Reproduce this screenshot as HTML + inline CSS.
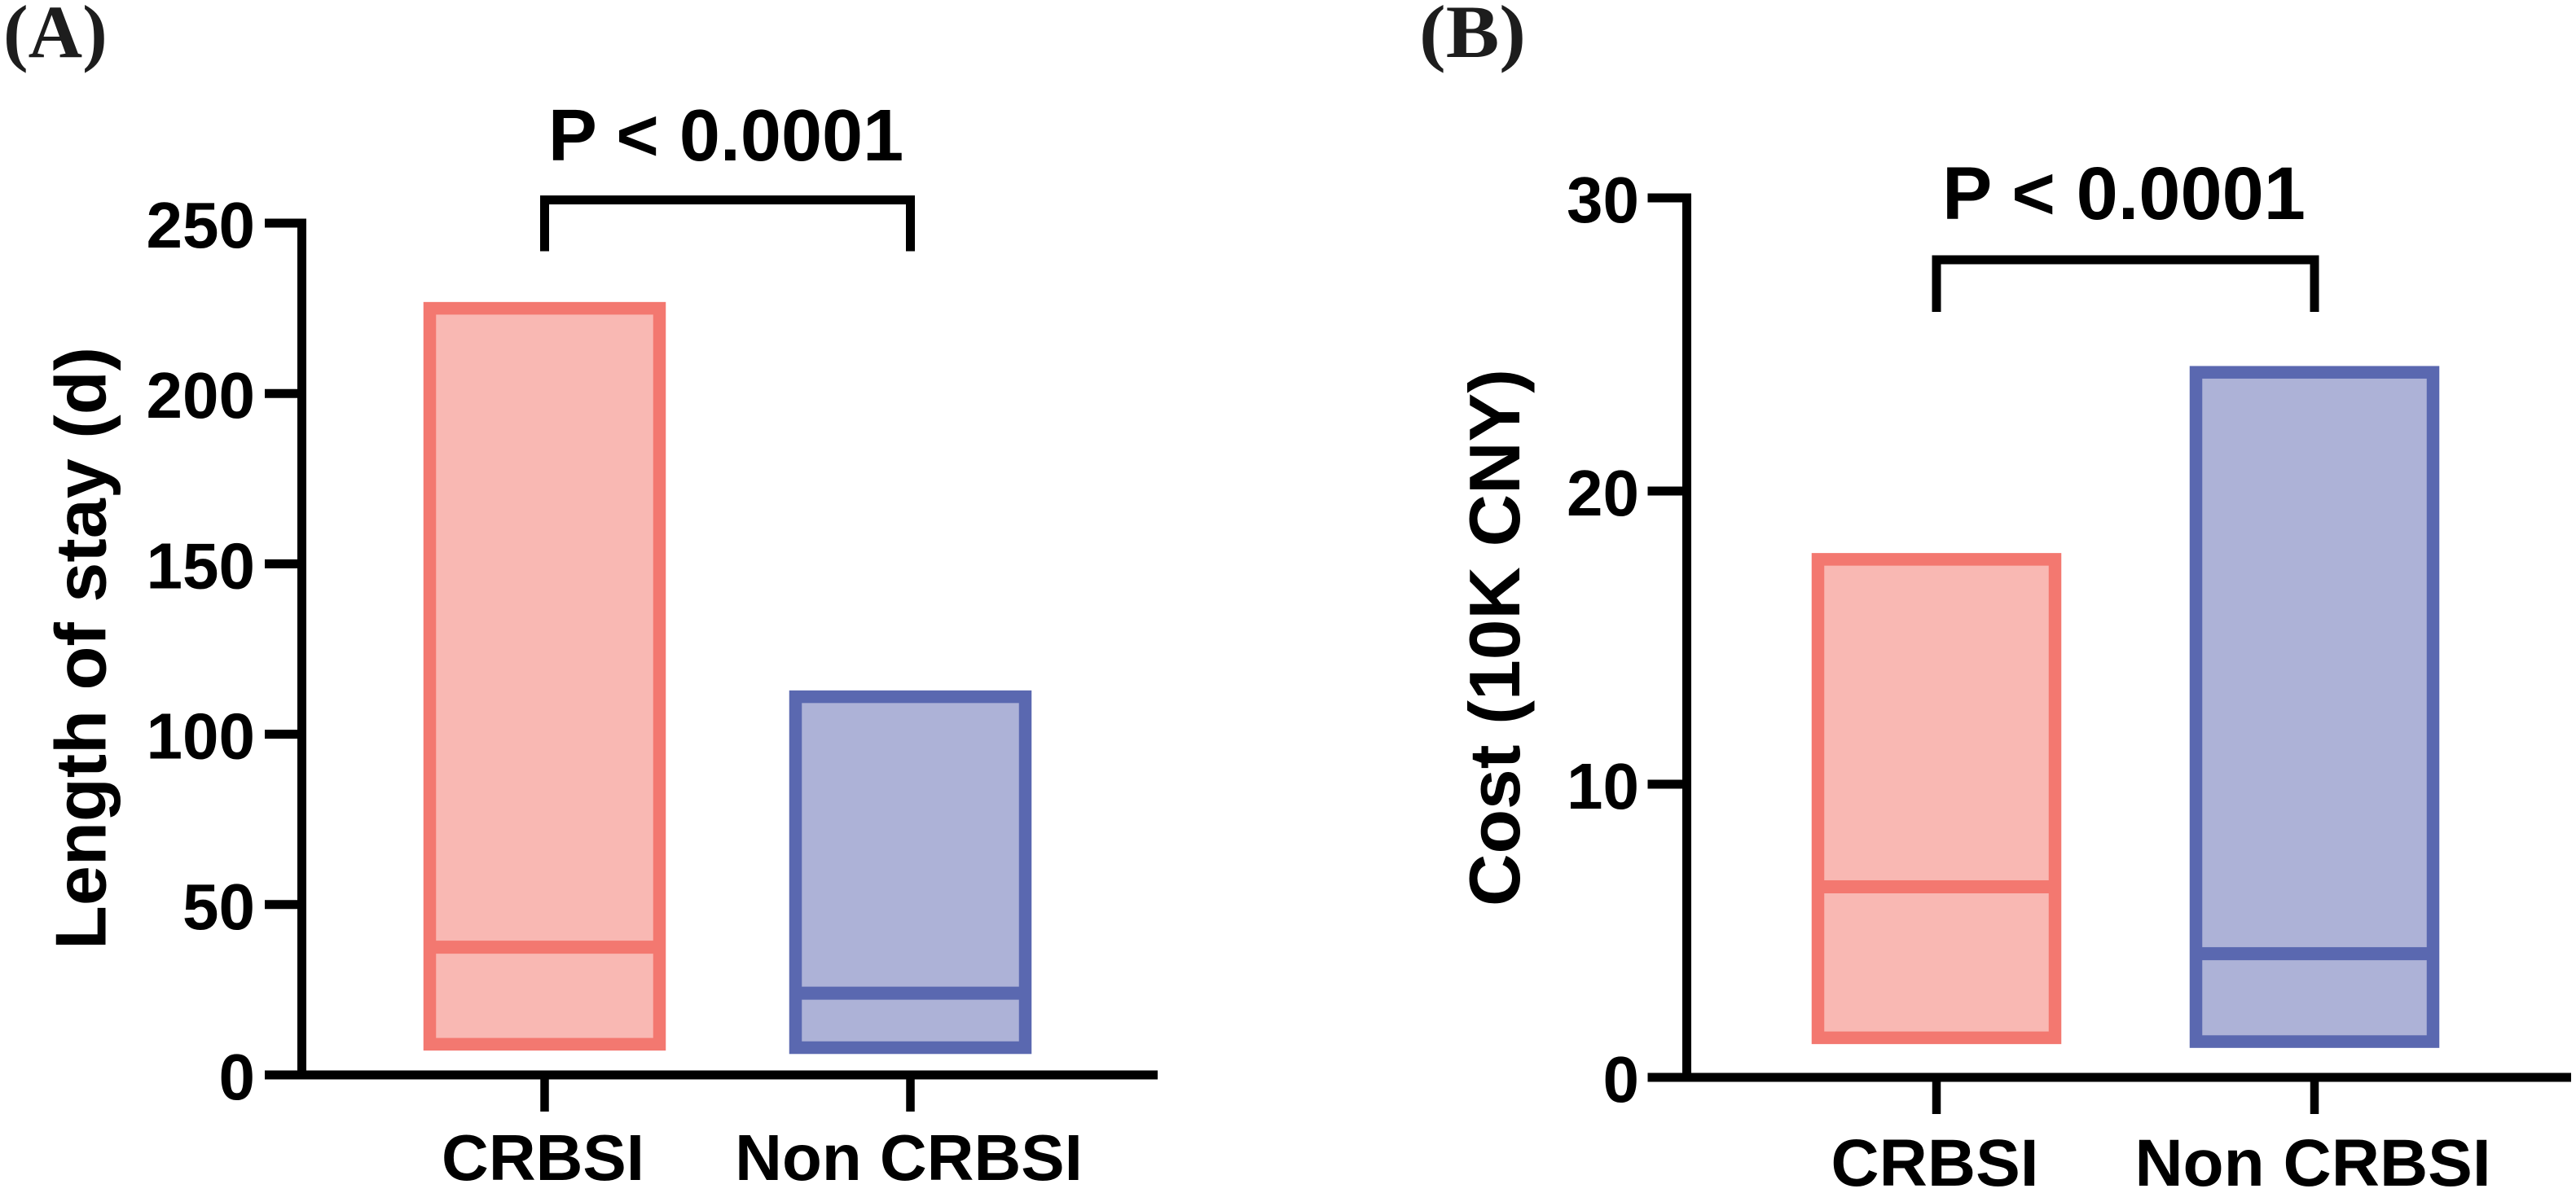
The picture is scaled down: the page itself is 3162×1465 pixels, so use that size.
<!DOCTYPE html>
<html lang="en">
<head>
<meta charset="utf-8">
<title>Length of stay and cost: CRBSI vs Non CRBSI</title>
<style>
  html, body { margin: 0; padding: 0; background: #fff; }
  svg { display: block; }
  text { font-family: "Liberation Sans", Arial, sans-serif; font-weight: 700; fill: #000; }
  .panel-letter { font-family: "Liberation Serif", "Times New Roman", serif; font-size: 92px; fill: #1d1d1d; }
</style>
</head>
<body>
<svg id="figure" xmlns="http://www.w3.org/2000/svg" width="3162" height="1465" viewBox="0 0 3162 1465">
  <rect x="0" y="0" width="3162" height="1465" fill="#ffffff"/>
  <text class="panel-letter" x="4" y="70">(A)</text>
  <text class="panel-letter" x="1742" y="70" textLength="131" lengthAdjust="spacingAndGlyphs">(B)</text>
  <text font-size="88" text-anchor="middle" textLength="740" lengthAdjust="spacingAndGlyphs" transform="translate(129.5 796) rotate(-90)">Length of stay (d)</text>
  <text font-size="88" text-anchor="middle" textLength="660" lengthAdjust="spacingAndGlyphs" transform="translate(1865 783) rotate(-90)">Cost (10K CNY)</text>
  <text font-size="90" text-anchor="middle" x="891" y="197">P &lt; 0.0001</text>
  <text font-size="92" text-anchor="middle" x="2607" y="269">P &lt; 0.0001</text>
  <g id="panel-a"></g>
  <g id="panel-b"></g>
</svg>
<script>
// Shared categories
const categories = ['CRBSI', 'Non CRBSI'];

// Panel A: length of stay (d)
const lengthTicks = [0, 50, 100, 150, 200, 250];
const lengthMin = [9, 8];
const lengthMedian = [37.5, 24];
const lengthMax = [225, 111];

// Panel B: cost (10K CNY)
const costTicks = [0, 10, 20, 30];
const costMin = [1.35, 1.22];
const costMedian = [6.5, 4.22];
const costMax = [17.67, 24.05];

const SVG_NS = 'http://www.w3.org/2000/svg';

function make(parent, tag, attrs) {
  const el = document.createElementNS(SVG_NS, tag);
  Object.keys(attrs).forEach(function (k) { el.setAttribute(k, attrs[k]); });
  parent.appendChild(el);
  return el;
}

function linearScale(d0, d1, r0, r1) {
  return function (v) { return r0 + (v - d0) * (r1 - r0) / (d1 - d0); };
}

function drawPanel(opts) {
  const root = document.getElementById(opts.id);
  const y = linearScale(0, opts.ticks[opts.ticks.length - 1], opts.y0, opts.yTop);
  const x = function (i) { return opts.xFirst + i * opts.xStep; };
  const colors = [
    { stroke: '#F37870', fill: '#F9B8B3' },
    { stroke: '#5A68B0', fill: '#ADB2D7' }
  ];

  // Floating bars
  opts.categories.forEach(function (cat, i) {
    const top = y(opts.max[i]);
    const bottom = y(opts.min[i]);
    const slug = i === 0 ? 'crbsi' : 'non-crbsi';
    const bar = make(root, 'rect', {
      x: x(i) - opts.barWidth / 2, y: top,
      width: opts.barWidth, height: bottom - top,
      fill: colors[i].fill, stroke: colors[i].stroke, 'stroke-width': 15.5
    });
    
    
    const med = make(root, 'line', {
      x1: x(i) - opts.barWidth / 2, x2: x(i) + opts.barWidth / 2,
      y1: y(opts.median[i]), y2: y(opts.median[i]),
      stroke: colors[i].stroke, 'stroke-width': 16
    });
    
    
  });

  // Y axis
  const yAxis = make(root, 'line', {
    x1: opts.axisX, x2: opts.axisX,
    y1: opts.yTop - 5.5, y2: opts.y0 + 5.5,
    stroke: '#000', 'stroke-width': 11
  });
  
  

  // Y ticks + labels
  opts.ticks.forEach(function (t) {
    const tick = make(root, 'line', {
      x1: opts.tickLeft, x2: opts.axisX,
      y1: y(t), y2: y(t),
      stroke: '#000', 'stroke-width': 11
    });
    
    
    const label = make(root, 'text', {
      x: opts.tickLabelX, y: y(t) + 30,
      'font-size': 80, 'text-anchor': 'end'
    });
    label.textContent = String(t);
    
    
  });

  // X axis
  const xAxis = make(root, 'line', {
    x1: opts.tickLeft, x2: opts.axisRight,
    y1: opts.y0, y2: opts.y0,
    stroke: '#000', 'stroke-width': 11
  });
  
  

  // X ticks + labels
  opts.categories.forEach(function (cat, i) {
    const tick = make(root, 'line', {
      x1: x(i), x2: x(i),
      y1: opts.y0, y2: opts.y0 + 45,
      stroke: '#000', 'stroke-width': 10.5
    });
    
    
    const label = make(root, 'text', {
      x: x(i) - 2, y: opts.xLabelY,
      'font-size': opts.xLabelSize, 'text-anchor': 'middle'
    });
    label.textContent = cat;
    
    
  });

  // Significance bracket
  const bracket = make(root, 'path', {
    d: 'M' + x(0) + ' ' + opts.bracketBottom +
       'V' + opts.bracketTop +
       'H' + x(1) +
       'V' + opts.bracketBottom,
    fill: 'none', stroke: '#000', 'stroke-width': 11, 'stroke-linejoin': 'miter'
  });
  
  
}

drawPanel({
  id: 'panel-a', categories: categories, ticks: lengthTicks,
  min: lengthMin, median: lengthMedian, max: lengthMax,
  y0: 1320, yTop: 274, axisX: 370.5, tickLeft: 325, axisRight: 1421,
  xFirst: 668.5, xStep: 449, barWidth: 282, tickLabelX: 313,
  xLabelY: 1449, xLabelSize: 80, bracketTop: 245.5, bracketBottom: 308.5
});

drawPanel({
  id: 'panel-b', categories: categories, ticks: costTicks,
  min: costMin, median: costMedian, max: costMax,
  y0: 1323, yTop: 243, axisX: 2070.5, tickLeft: 2022.5, axisRight: 3156,
  xFirst: 2377, xStep: 464, barWidth: 291, tickLabelX: 2012,
  xLabelY: 1456, xLabelSize: 82, bracketTop: 319, bracketBottom: 383
});
</script>
</body>
</html>
